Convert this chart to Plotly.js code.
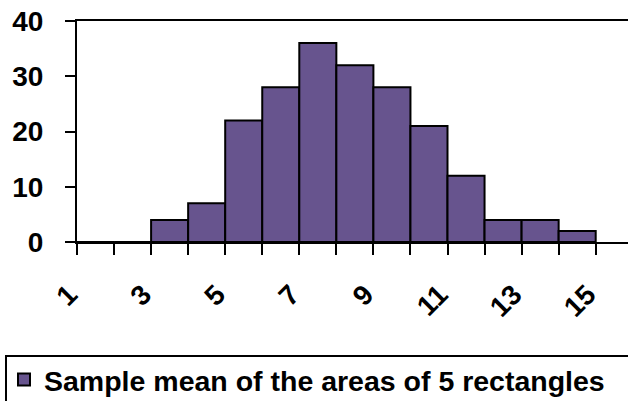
<!DOCTYPE html>
<html>
<head>
<meta charset="utf-8">
<script src="https://cdn.plot.ly/plotly-3.0.1.min.js"></script>
<style>
html,body{margin:0;padding:0;background:#fff;}
#chart{width:628px;height:401px;}
</style>
</head>
<body>
<div id="chart"></div>
<script>
// ---- data ----
var binCenters = [1.5, 2.5, 3.5, 4.5, 5.5, 6.5, 7.5, 8.5, 9.5, 10.5, 11.5, 12.5, 13.5, 14.5];
var counts     = [0, 0, 4, 7, 22, 28, 36, 32, 28, 21, 12, 4, 4, 2];
var seriesName = "Sample mean of the areas of 5 rectangles";
var yTicks     = [0, 10, 20, 30, 40];

// ---- layout constants ----
var W = 628, H = 401;
var L = 77, R = 0, T = 21, B = 159;
var plotW = W - L - R, plotH = H - T - B;
var pxPerUnit = 37.05;
var xMin = 1, xMax = xMin + plotW / pxPerUnit;

var TICK_FONT = {family: "Liberation Sans, Arial, sans-serif", size: 28, color: "#000", weight: 700};
var LEG_FONT  = {family: "Liberation Sans, Arial, sans-serif", size: 28.5, color: "#000", weight: 700};
var BAR_COLOR = "#67548E";

function pxToPaperX(px){ return (px - L) / plotW; }
function pxToPaperY(py){ return (T + plotH - py) / plotH; }

var trace = {
  type: "bar",
  x: binCenters,
  y: counts,
  width: 1,
  name: seriesName,
  marker: {color: BAR_COLOR, line: {color: "#000", width: 2}},
  showlegend: true,
  hoverinfo: "x+y"
};

var layout = {
  width: W, height: H,
  margin: {l: L, r: R, t: T, b: B, autoexpand: false},
  paper_bgcolor: "#fff",
  plot_bgcolor: "#fff",
  bargap: 0,
  font: TICK_FONT,
  showlegend: true,
  xaxis: {
    range: [xMin, xMax],
    tick0: 1, dtick: 2,
    tickmode: "linear",
    ticks: "outside", ticklen: 11, tickwidth: 2, tickcolor: "#000",
    minor: {dtick: 1, tick0: 1, ticks: "outside", ticklen: 11, tickwidth: 2, tickcolor: "#000", showgrid: false},
    tickangle: -45,
    ticklabelstandoff: 12,
    ticklabelshift: -8,
    tickfont: TICK_FONT,
    showline: true, linecolor: "#000", linewidth: 2,
    mirror: true,
    showgrid: false, zeroline: false,
    fixedrange: true
  },
  yaxis: {
    range: [0, 40],
    tickvals: yTicks,
    ticks: "outside", ticklen: 10, tickwidth: 2, tickcolor: "#000",
    ticklabelstandoff: 16,
    tickfont: TICK_FONT,
    showline: true, linecolor: "#000", linewidth: 2,
    showgrid: false, zeroline: false,
    fixedrange: true
  },
  legend: {
    xref: "container", yref: "container",
    x: 4 / W, xanchor: "left",
    y: (H - 380) / H, yanchor: "middle",
    bgcolor: "rgba(0,0,0,0)",
    borderwidth: 0,
    font: LEG_FONT
  },
  shapes: [{
    type: "rect", xref: "paper", yref: "paper",
    x0: pxToPaperX(6), x1: pxToPaperX(W + 20),
    y0: pxToPaperY(356), y1: pxToPaperY(H + 20),
    line: {color: "#000", width: 2},
    fillcolor: "rgba(0,0,0,0)",
    layer: "below"
  }]
};

Plotly.newPlot("chart", [trace], layout, {displayModeBar: false, staticPlot: true});
</script>
</body>
</html>
